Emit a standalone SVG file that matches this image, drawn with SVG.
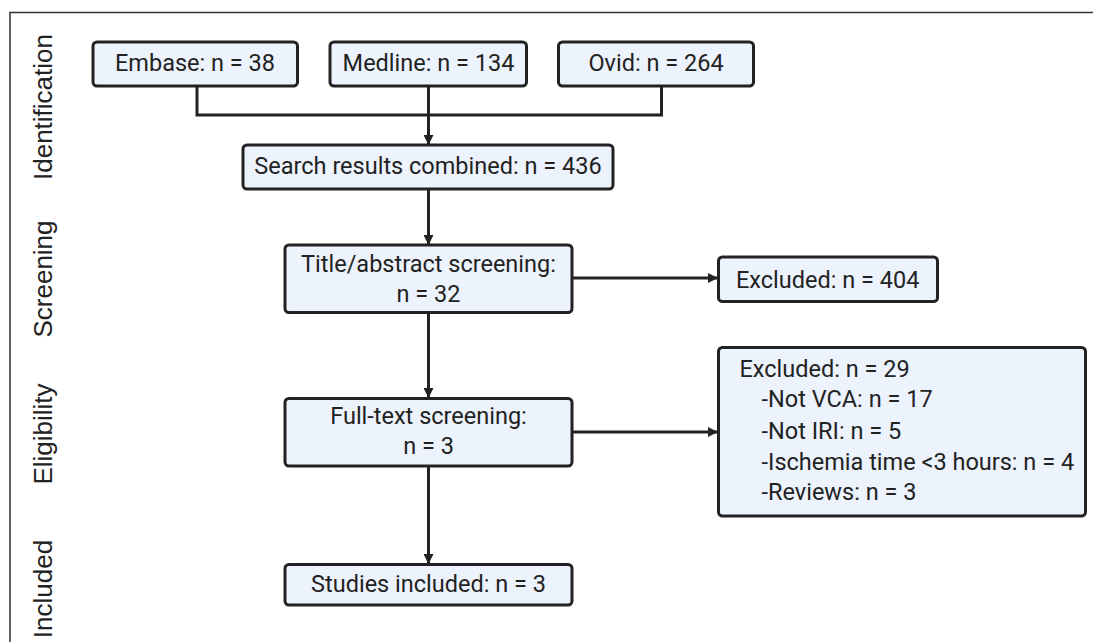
<svg xmlns="http://www.w3.org/2000/svg" width="1093" height="642" viewBox="0 0 1093 642">
<defs>
<style>
.box{fill:#EDF3FC;stroke:#222;stroke-width:3}
.t{font-family:Roboto,"Liberation Sans",sans-serif;font-size:23.5px;fill:#222}
.c{text-anchor:middle}
.side{font-family:"Liberation Sans",Arial,sans-serif;font-size:26px;fill:#222;text-anchor:middle}
.ln{fill:none;stroke:#222;stroke-width:3}
</style>
<marker id="ah" markerUnits="userSpaceOnUse" markerWidth="10" markerHeight="10" refX="10" refY="5" orient="auto">
<path d="M0,0 L10,5 L0,10 z" fill="#222"/>
</marker>
</defs>
<rect width="1093" height="642" fill="#fff"/>
<path d="M10,642 V12.5 H1093" fill="none" stroke="#333" stroke-width="1.5"/>
<g id="labels">
<text class="side" transform="translate(52,107) rotate(-90)">Identification</text>
<text class="side" transform="translate(52,279) rotate(-90)">Screening</text>
<text class="side" transform="translate(52,434) rotate(-90)">Eligibility</text>
<text class="side" transform="translate(52,589) rotate(-90)">Included</text>
</g>
<g id="connectors">
<path class="ln" d="M197,86 V115 H661.5 V86"/>
<path class="ln" d="M428.5,86 V145" marker-end="url(#ah)"/>
<path class="ln" d="M428.5,189 V245" marker-end="url(#ah)"/>
<path class="ln" d="M572,278 H718" marker-end="url(#ah)"/>
<path class="ln" d="M428.5,313 V398" marker-end="url(#ah)"/>
<path class="ln" d="M572,432 H718" marker-end="url(#ah)"/>
<path class="ln" d="M428.5,466 V564" marker-end="url(#ah)"/>
</g>
<g id="embase">
<rect class="box" x="93" y="42" width="204.5" height="44" rx="4"/>
<text class="t c" x="195" y="71">Embase: n = 38</text>
</g>
<g id="medline">
<rect class="box" x="330" y="42" width="196.5" height="44" rx="4"/>
<text class="t c" x="428.5" y="71">Medline: n = 134</text>
</g>
<g id="ovid">
<rect class="box" x="558.5" y="42" width="195" height="44" rx="4"/>
<text class="t c" x="656" y="71">Ovid: n = 264</text>
</g>
<g id="search">
<rect class="box" x="243" y="145" width="370" height="44" rx="4"/>
<text class="t c" x="428" y="174">Search results combined: n = 436</text>
</g>
<g id="title-abstract">
<rect class="box" x="285" y="245" width="287" height="67.5" rx="4"/>
<text class="t c" x="428.5" y="272">Title/abstract screening:</text>
<text class="t c" x="428.5" y="302">n = 32</text>
</g>
<g id="excluded-404">
<rect class="box" x="718.5" y="257" width="219" height="44.5" rx="4"/>
<text class="t" x="736" y="287.5">Excluded: n = 404</text>
</g>
<g id="full-text">
<rect class="box" x="285" y="398.5" width="287" height="67.5" rx="4"/>
<text class="t c" x="428.5" y="424">Full-text screening:</text>
<text class="t c" x="428.5" y="454">n = 3</text>
</g>
<g id="excluded-29">
<rect class="box" x="718.5" y="347.5" width="367" height="168.5" rx="4"/>
<text class="t" x="739.5" y="377">Excluded: n = 29</text>
<text class="t" x="761.5" y="407">-Not VCA: n = 17</text>
<text class="t" x="761.5" y="438.5">-Not IRI: n = 5</text>
<text class="t" x="761.5" y="470">-Ischemia time &lt;3 hours: n = 4</text>
<text class="t" x="761.5" y="500">-Reviews: n = 3</text>
</g>
<g id="studies">
<rect class="box" x="285" y="564.5" width="287" height="40.5" rx="4"/>
<text class="t c" x="428.5" y="592">Studies included: n = 3</text>
</g>
</svg>
